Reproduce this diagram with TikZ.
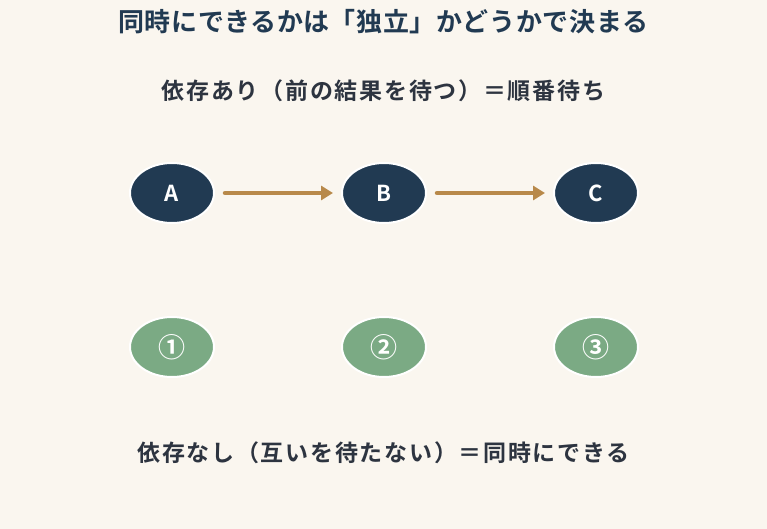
\documentclass[tikz,border=0pt]{standalone}
\usepackage{fontspec}
\setmainfont{Noto Sans CJK JP}
\newfontfamily\jpbold{Noto Sans CJK JP Bold}
\newfontfamily\jpwide{Noto Sans CJK JP Bold}[LetterSpace=7.5]
\newfontfamily\jptitle{Noto Sans CJK JP Bold}[LetterSpace=2.5]
\usetikzlibrary{arrows.meta,shapes.geometric}
\definecolor{paper}{HTML}{FAF6EF}
\definecolor{navy}{HTML}{213A52}
\definecolor{sage}{HTML}{7BAA84}
\definecolor{bronze}{HTML}{B8894A}
\definecolor{ink}{HTML}{2D3440}

\begin{document}
\begin{tikzpicture}[x=1pt,y=-1pt,
  task/.style={ellipse,draw=white,line width=2pt,minimum width=84pt,minimum height=60pt,inner sep=0pt,text=white,font=\jpbold\fontsize{22}{24}\selectfont},
  seq/.style={task,fill=navy},
  par/.style={task,fill=sage,font=\jpbold\fontsize{27}{28}\selectfont},
  dep/.style={-{Triangle[length=12pt,width=14pt]},line width=4.5pt,draw=bronze,line cap=round,shorten <=10pt,shorten >=8pt},
  caption/.style={text=ink,font=\jpwide\fontsize{23}{26}\selectfont},
]
  \fill[paper] (0,0) rectangle (767,529);
  \useasboundingbox (0,0) rectangle (767,529);
  \node[text=navy,font=\jptitle\fontsize{26}{30}\selectfont] (title) at (383.5,22) {同時にできるかは「独立」かどうかで決まる};
  \node[caption] (deptext) at (383.5,91) {依存あり（前の結果を待つ）＝順番待ち};
  \node[caption] (partext) at (383.5,453) {依存なし（互いを待たない）＝同時にできる};
  \node[seq] (a) at (172,193) {A};
  \node[seq] (b) at (384,193) {B};
  \node[seq] (c) at (596,193) {C};
  \draw[dep] (a) -- (b);
  \draw[dep] (b) -- (c);
  \node[par] (p1) at (172,347) {①};
  \node[par] (p2) at (384,347) {②};
  \node[par] (p3) at (596,347) {③};
\end{tikzpicture}
\end{document}
